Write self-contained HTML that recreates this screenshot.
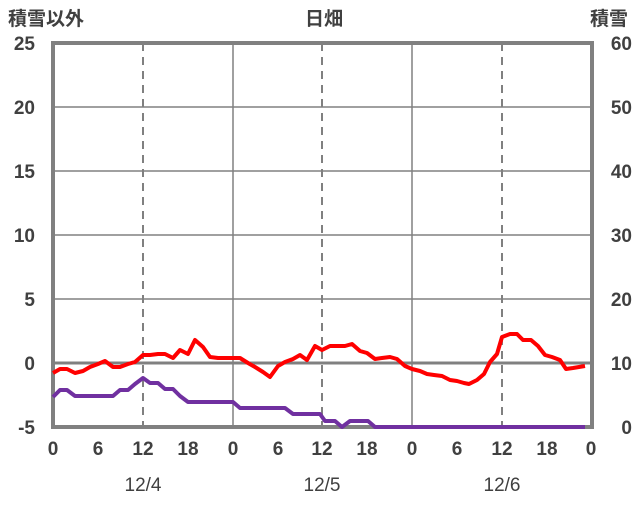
<!DOCTYPE html><html><head><style>body{margin:0;background:#fff}svg text{font-family:"Liberation Sans","Noto Sans CJK JP",sans-serif;fill:#404040;font-size:19px;font-weight:bold}</style></head><body>
<svg width="636" height="501" xmlns="http://www.w3.org/2000/svg">
<g stroke="#808080" stroke-width="1.5">
<line x1="53" y1="107" x2="592" y2="107"/><line x1="53" y1="171" x2="592" y2="171"/><line x1="53" y1="235" x2="592" y2="235"/><line x1="53" y1="299" x2="592" y2="299"/>
<line x1="233" y1="43" x2="233" y2="427"/><line x1="412" y1="43" x2="412" y2="427"/>
<g stroke-dasharray="8,6" stroke-width="2"><line x1="143" y1="43" x2="143" y2="427"/><line x1="322" y1="43" x2="322" y2="427"/><line x1="502" y1="43" x2="502" y2="427"/></g>
<line x1="53" y1="363" x2="592" y2="363" stroke-width="3"/>
</g>
<rect x="53" y="43" width="539" height="384" fill="none" stroke="#808080" stroke-width="4"/>
<polyline fill="none" stroke="#ff0000" stroke-width="4" stroke-linejoin="round" points="53,373 60,369 67,369 75,373 83,371 90,367 98,364 105,361 113,367 120,367 128,364 135,362 143,355 150,355 158,354 165,354 173,358 180,350 188,354 195,340 203,347 210,357 218,358 240,358 248,363 255,367 263,372 270,377 278,366 285,362 293,359 300,355 307,360 315,346 322,350 330,346 345,346 352,344 360,351 367,353 375,359 382,358 390,357 397,359 405,366 412,369 420,371 427,374 434,375 442,376 450,380 457,381 464,383 469,384 477,380 484,374 490,362 497,354 502,337 510,334 517,334 523,340 531,340 538,346 545,355 552,357 560,360 566,369 573,368 585,366"/>
<polyline fill="none" stroke="#7030a0" stroke-width="4" stroke-linejoin="round" points="53,397 60,390 67,390 75,396 113,396 120,390 128,390 135,384 143,378 150,383 158,383 165,389 173,389 180,396 188,402 233,402 240,408 285,408 293,414 320,414 325,421 335,421 342,427 350,421 368,421 375,427 585,427"/>
<g text-anchor="end"><text x="35" y="50">25</text><text x="35" y="114">20</text><text x="35" y="178">15</text><text x="35" y="242">10</text><text x="35" y="306">5</text><text x="35" y="370">0</text><text x="35" y="434">-5</text></g>
<g text-anchor="end"><text x="632" y="50">60</text><text x="632" y="114">50</text><text x="632" y="178">40</text><text x="632" y="242">30</text><text x="632" y="306">20</text><text x="632" y="370">10</text><text x="632" y="434">0</text></g>
<g text-anchor="middle"><text x="53" y="455">0</text><text x="98" y="455">6</text><text x="143" y="455">12</text><text x="188" y="455">18</text><text x="233" y="455">0</text><text x="278" y="455">6</text><text x="322" y="455">12</text><text x="367" y="455">18</text><text x="412" y="455">0</text><text x="457" y="455">6</text><text x="502" y="455">12</text><text x="547" y="455">18</text><text x="591" y="455">0</text>
<text x="143" y="491" style="font-weight:normal">12/4</text><text x="322" y="491" style="font-weight:normal">12/5</text><text x="502" y="491" style="font-weight:normal">12/6</text>
<text x="324" y="25">日畑</text><text x="46" y="25">積雪以外</text><text x="609" y="25">積雪</text></g>
</svg></body></html>
